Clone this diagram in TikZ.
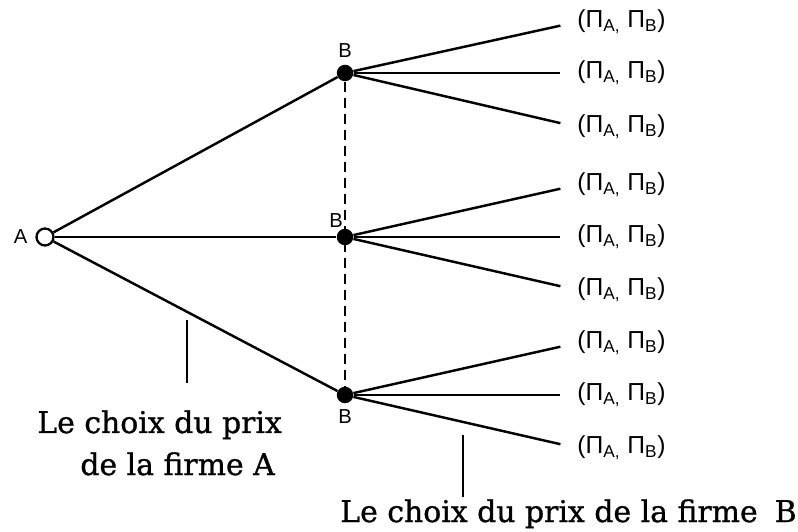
\documentclass[tikz,border=0pt]{standalone}
\usepackage{fontspec}
\setsansfont{Liberation Sans}
\newfontfamily\capfont[FakeBold=1]{DejaVu Serif}
\usepackage{tikz}
\usetikzlibrary{positioning}

\begin{document}
\begin{tikzpicture}[
    edge/.style={line width=1.4pt},
    tick/.style={line width=0.9pt},
    info/.style={line width=1.1pt, dash pattern=on 0.2cm off 0.12cm},
    dec/.style={circle, draw, line width=1.3pt, fill=white,
                inner sep=0pt, minimum size=0.34cm},
    nat/.style={circle, fill=black, inner sep=0pt, minimum size=0.33cm},
    pl/.style={font=\sffamily\fontsize{11.5}{13}\selectfont, inner sep=1pt},
    pay/.style={anchor=west, inner sep=0pt,
                font=\sffamily\fontsize{14}{16}\selectfont},
    txt/.style={inner sep=0pt, font=\capfont\fontsize{17}{20}\selectfont},
  ]
  \useasboundingbox (0,0) rectangle (15.96,10.62);

  % firm A moves first
  \node[dec] (a) at (0.90,5.88) {};
  \node[pl, left=0.12cm of a] (la) {A};

  % firm B, three nodes of one information set
  \node[nat] (b1) at (6.90,9.16) {};
  \node[nat] (b2) at (6.90,5.88) {};
  \node[nat] (b3) at (6.90,2.72) {};
  \node[pl, above=0.1cm of b1] (lb1) {B};
  \node[pl, above left=0.02cm and -0.12cm of b2] (lb2) {B};
  \node[pl, below=0.08cm of b3] (lb3) {B};

  \draw[info] (b1) -- (b3);
  \draw[edge] (a) -- (b1);
  \draw[edge] (a) -- (b2);
  \draw[edge] (a) -- (b3);

  % payoffs
  \foreach \b/\ya/\yb/\yc in {1/10.18/9.16/8.08, 2/6.92/5.88/4.82, 3/3.76/2.72/1.66} {
    \node[pay] (p\b1) at (11.54,\ya) {(Π\textsubscript{A,} Π\textsubscript{B})};
    \node[pay] (p\b2) at (11.54,\yb) {(Π\textsubscript{A,} Π\textsubscript{B})};
    \node[pay] (p\b3) at (11.54,\yc) {(Π\textsubscript{A,} Π\textsubscript{B})};
    \draw[edge, shorten >=0.34cm] (b\b) -- (p\b1.west);
    \draw[edge, shorten >=0.34cm] (b\b) -- (p\b2.west);
    \draw[edge, shorten >=0.34cm] (b\b) -- (p\b3.west);
  }

  % captions
  \node[txt, anchor=base west] (ta) at (0.74,1.96) {Le choix du prix};
  \node[txt, anchor=base west] (ta2) at (1.60,1.12) {de la firme A};
  \node[txt, anchor=base east] (tb) at (15.94,0.18)
        {Le choix du prix de la firme\hspace{0.25em} B};
  \coordinate (ka) at (3.74,2.96);
  \coordinate (kb) at (9.26,0.68);
  \draw[tick] (ka) -- ++(0,1.26);
  \draw[tick] (kb) -- ++(0,1.24);
\end{tikzpicture}
\end{document}
